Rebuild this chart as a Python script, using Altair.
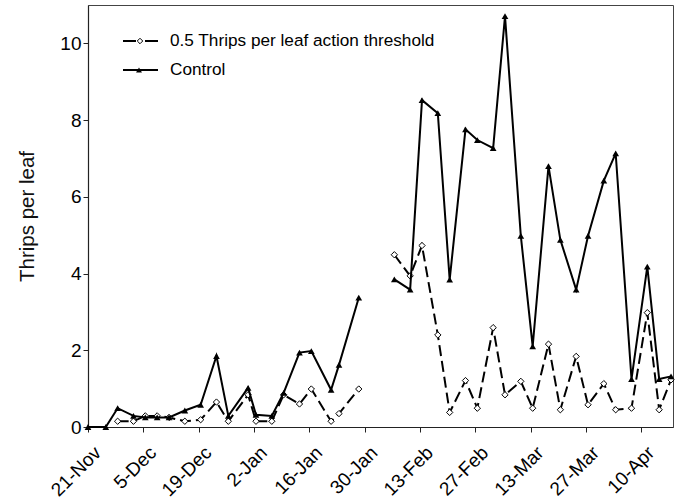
import altair as alt
import pandas as pd

# ---- data ----
control_dates = [
    "2008-11-21T00:00", "2008-11-25T12:00", "2008-11-28T12:00", "2008-12-02T12:00",
    "2008-12-05T12:00", "2008-12-08T12:00", "2008-12-11T12:00", "2008-12-15T12:00",
    "2008-12-19T12:00", "2008-12-23T12:00", "2008-12-26T12:00", "2008-12-31T12:00",
    "2009-01-02T12:00", "2009-01-06T12:00", "2009-01-09T12:00", "2009-01-13T12:00",
    "2009-01-16T12:00", "2009-01-21T12:00", "2009-01-23T12:00", "2009-01-28T12:00",
    "2009-02-06T12:00", "2009-02-10T12:00", "2009-02-13T12:00", "2009-02-17T12:00",
    "2009-02-20T12:00", "2009-02-24T12:00", "2009-02-27T12:00", "2009-03-03T12:00",
    "2009-03-06T12:00", "2009-03-10T12:00", "2009-03-13T12:00", "2009-03-17T12:00",
    "2009-03-20T12:00", "2009-03-24T12:00", "2009-03-27T12:00", "2009-03-31T12:00",
    "2009-04-03T12:00", "2009-04-07T12:00", "2009-04-11T12:00", "2009-04-14T12:00",
    "2009-04-17T12:00",
]
control_vals = [
    0.0, 0.0, 0.49, 0.29, 0.25, 0.25, 0.25, 0.43, 0.58, 1.85, 0.29, 1.02, 0.32,
    0.29, 0.89, 1.94, 1.98, 0.97, 1.62, 3.37,
    3.85, 3.58, 8.52, 8.18, 3.84, 7.76, 7.48, 7.27, 10.71, 4.98, 2.10, 6.80,
    4.88, 3.58, 4.98, 6.42, 7.13, 1.25, 4.18, 1.25, 1.32,
]

threshold_dates = [
    "2008-11-28T12:00", "2008-12-02T12:00", "2008-12-05T12:00", "2008-12-08T12:00",
    "2008-12-11T12:00", "2008-12-15T12:00", "2008-12-19T12:00", "2008-12-23T12:00",
    "2008-12-26T12:00", "2008-12-31T12:00", "2009-01-02T12:00", "2009-01-06T12:00",
    "2009-01-09T12:00", "2009-01-13T12:00", "2009-01-16T12:00", "2009-01-21T12:00",
    "2009-01-23T12:00", "2009-01-28T12:00",
    "2009-02-06T12:00", "2009-02-10T12:00", "2009-02-13T12:00", "2009-02-17T12:00",
    "2009-02-20T12:00", "2009-02-24T12:00", "2009-02-27T12:00", "2009-03-03T12:00",
    "2009-03-06T12:00", "2009-03-10T12:00", "2009-03-13T12:00", "2009-03-17T12:00",
    "2009-03-20T12:00", "2009-03-24T12:00", "2009-03-27T12:00", "2009-03-31T12:00",
    "2009-04-03T12:00", "2009-04-07T12:00", "2009-04-11T12:00", "2009-04-14T12:00",
    "2009-04-17T12:00",
]
threshold_vals = [
    0.15, 0.15, 0.29, 0.29, 0.25, 0.15, 0.19, 0.65, 0.15, 0.84, 0.15, 0.15,
    0.84, 0.60, 0.99, 0.15, 0.35, 0.99,
    4.49, 3.94, 4.73, 2.40, 0.38, 1.21, 0.49, 2.59, 0.84, 1.19, 0.49, 2.16,
    0.45, 1.84, 0.58, 1.13, 0.45, 0.49, 2.98, 0.45, 1.23,
]

tick_dates = [
    (2008, 11, 21), (2008, 12, 5), (2008, 12, 19), (2009, 1, 2), (2009, 1, 16),
    (2009, 1, 30), (2009, 2, 13), (2009, 2, 27), (2009, 3, 13), (2009, 3, 27),
    (2009, 4, 10),
]
y_ticks = [0, 2, 4, 6, 8, 10]
legend_labels = ["0.5 Thrips per leaf action threshold", "Control"]
gap_start = "2009-02-01"  # sampling pause separating the two line segments

FONT = "Liberation Sans"

ctl = pd.DataFrame({"date": control_dates, "value": control_vals})
ctl["seg"] = (ctl["date"] > gap_start).astype(int)
thr = pd.DataFrame({"date": threshold_dates, "value": threshold_vals})
thr["seg"] = (thr["date"] > gap_start).astype(int)

x_enc = alt.X(
    "date:T",
    scale=alt.Scale(domain=[alt.DateTime(year=2008, month=11, date=21),
                            alt.DateTime(year=2009, month=4, date=18)]),
    axis=alt.Axis(
        values=[alt.DateTime(year=y, month=m, date=d) for (y, m, d) in tick_dates],
        format="%-d-%b", labelAngle=-45, labelAlign="right", labelBaseline="top",
        title=None, labelPadding=11, labelOffset=3, labelFontSize=19,
        labelOverlap=False, labelFlush=False, labelBound=False,
    ),
)
y_enc = alt.Y(
    "value:Q",
    scale=alt.Scale(domain=[0, 11], nice=False),
    axis=alt.Axis(values=y_ticks, title="Thrips per leaf", titlePadding=22,
                  labelFontSize=19),
)

thr_line = alt.Chart(thr).mark_line(color="black", strokeWidth=2, strokeDash=[11, 5]).encode(
    x=x_enc, y=y_enc, detail="seg:N")
thr_pts = alt.Chart(thr).mark_point(shape="diamond", filled=True, fill="white", stroke="black",
                                    strokeWidth=1, size=40, opacity=1).encode(x=x_enc, y=y_enc)
ctl_line = alt.Chart(ctl).mark_line(color="black", strokeWidth=2).encode(
    x=x_enc, y=y_enc, detail="seg:N")
ctl_pts = alt.Chart(ctl).mark_point(shape="triangle-up", filled=True, color="black",
                                    size=45, opacity=1).encode(x=x_enc, y=y_enc)

# ---- legend (drawn inside the plot, top-left) ----
leg_df = pd.DataFrame({"label": legend_labels})
leg1_line = alt.Chart(leg_df.iloc[[0]]).mark_rule(color="black", strokeWidth=2, strokeDash=[13, 9]).encode(
    x=alt.value(35), x2=alt.value(70), y=alt.value(36))
leg1_pt = alt.Chart(leg_df.iloc[[0]]).mark_point(shape="diamond", filled=True, fill="white", stroke="black",
                                                 strokeWidth=1, size=30, opacity=1).encode(
    x=alt.value(52), y=alt.value(36))
leg2_line = alt.Chart(leg_df.iloc[[1]]).mark_rule(color="black", strokeWidth=2).encode(
    x=alt.value(35), x2=alt.value(70), y=alt.value(65))
leg2_pt = alt.Chart(leg_df.iloc[[1]]).mark_point(shape="triangle-up", filled=True, color="black",
                                                 size=35, opacity=1).encode(
    x=alt.value(51), y=alt.value(65))
leg1_txt = alt.Chart(leg_df.iloc[[0]]).mark_text(align="left", baseline="middle", font=FONT,
                                                 fontSize=17.2, color="black").encode(
    x=alt.value(82), y=alt.value(36), text="label:N")
leg2_txt = alt.Chart(leg_df.iloc[[1]]).mark_text(align="left", baseline="middle", font=FONT,
                                                 fontSize=17.2, color="black").encode(
    x=alt.value(82), y=alt.value(65), text="label:N")

chart = alt.layer(
    thr_line, thr_pts, ctl_line, ctl_pts,
    leg1_line, leg1_pt, leg2_line, leg2_pt, leg1_txt, leg2_txt,
).properties(
    width=585, height=422,
    autosize=alt.AutoSizeParams(type="none"),
    padding={"left": 88, "top": 5, "right": 6, "bottom": 75},
    background="white",
).configure_view(
    stroke="#444", strokeWidth=1,
).configure_axis(
    grid=False, domainColor="#222", domainWidth=1.2, tickColor="#222", tickSize=5,
    labelFont=FONT, labelFontSize=18, labelColor="black",
    titleFont=FONT, titleFontSize=20.5, titleFontWeight="normal", titleColor="#111",
)

chart.save("out.html", embed_options={"renderer": "svg", "actions": False})
